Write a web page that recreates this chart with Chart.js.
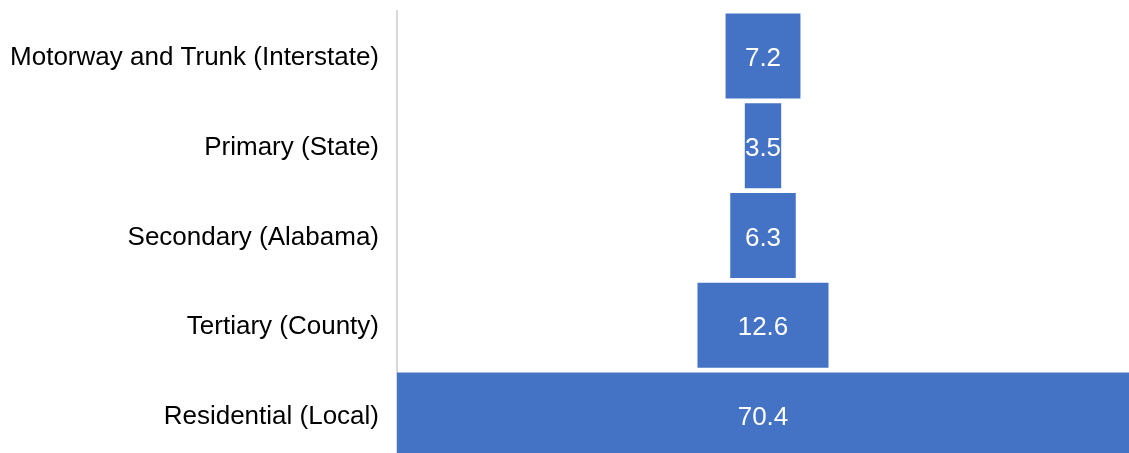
<!DOCTYPE html>
<html>
<head>
<meta charset="utf-8">
<script src="https://cdn.jsdelivr.net/npm/chart.js@4"></script>
<style>
  html, body { margin: 0; padding: 0; background: #fff; overflow: hidden; }
</style>
</head>
<body>
<canvas id="funnel" width="1129" height="462"></canvas>
<script>
// Road classes, top of funnel first
const categories = [
    'Motorway and Trunk (Interstate)',
    'Primary (State)',
    'Secondary (Alabama)',
    'Tertiary (County)',
    'Residential (Local)'
];
// Share of road length per class (%)
const shares = [7.2, 3.5, 6.3, 12.6, 70.4];

const widest = Math.max(...shares);
const middle = widest / 2;

// Each bar floats around the middle so the stack reads as a funnel
const spans = shares.map(v => [middle - v / 2, middle + v / 2]);

const FONT = '"Liberation Sans", Arial, sans-serif';

// Writes the value in the middle of each bar
const valueLabels = {
    id: 'valueLabels',
    afterDatasetsDraw(chart) {
        const ctx = chart.ctx;
        const meta = chart.getDatasetMeta(0);
        ctx.save();
        ctx.fillStyle = '#ffffff';
        ctx.font = '26px ' + FONT;
        ctx.textAlign = 'center';
        ctx.textBaseline = 'middle';
        meta.data.forEach((bar, i) => {
            const x = chart.scales.x.getPixelForValue(middle);
            ctx.fillText(shares[i].toFixed(1), x, bar.y + 3);
        });
        ctx.restore();
    }
};

new Chart(document.getElementById('funnel'), {
    type: 'bar',
    data: {
        labels: categories,
        datasets: [{
            data: spans,
            backgroundColor: '#4472C4',
            borderWidth: 0,
            barPercentage: 1,
            categoryPercentage: 0.947
        }]
    },
    options: {
        indexAxis: 'y',
        responsive: false,
        animation: false,
        layout: { padding: { top: 11, bottom: 2, left: 0, right: 0 } },
        plugins: {
            legend: { display: false },
            tooltip: { enabled: false }
        },
        scales: {
            x: {
                display: false,
                min: 0,
                max: widest
            },
            y: {
                grid: { display: false },
                border: { display: true, color: '#d9d9d9', width: 2 },
                ticks: {
                    color: '#000000',
                    padding: 10,
                    labelOffset: 2,
                    font: { family: FONT, size: 26 }
                },
                afterFit(scale) {
                    scale.width = 397;
                    scale.paddingTop = 0;
                    scale.paddingBottom = 0;
                }
            }
        }
    },
    plugins: [valueLabels]
});
</script>
</body>
</html>
